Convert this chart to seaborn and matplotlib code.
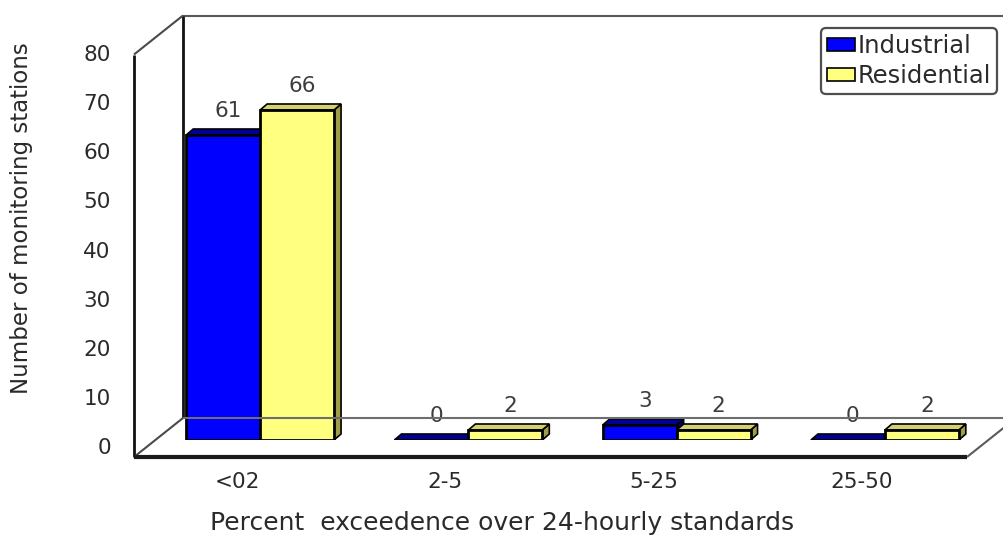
import matplotlib
matplotlib.use("Agg")
import matplotlib.pyplot as plt
import matplotlib.transforms as mtransforms
from matplotlib.lines import Line2D
from matplotlib.patches import Polygon, Patch
import pandas as pd
import seaborn as sns

# ---- data -------------------------------------------------------------
categories = ["<02", "2-5", "5-25", "25-50"]
industrial = [61, 0, 3, 0]
residential = [66, 2, 2, 2]
series_names = ["Industrial", "Residential"]
y_ticks = [0, 10, 20, 30, 40, 50, 60, 70, 80]
x_title = "Percent  exceedence over 24-hourly standards"
y_title = "Number of monitoring stations"

df = pd.DataFrame({
    "range": categories * 2,
    "stations": industrial + residential,
    "site": [series_names[0]] * len(categories) + [series_names[1]] * len(categories),
})

# ---- style ------------------------------------------------------------
sns.set_theme(style="white")
plt.rcParams["font.family"] = ["DejaVu Sans"]

front_colors = {"Industrial": "#0000FF", "Residential": "#FFFF80"}
top_colors = {"Industrial": "#000099", "Residential": "#D2D26E"}
side_colors = {"Industrial": "#000080", "Residential": "#9E9E48"}
text_dark = "#2a2a2a"

W, H = 1004, 536
DPI = 100
fig = plt.figure(figsize=(W / DPI, H / DPI), dpi=DPI, facecolor="white")


def px_rect(left, right, bottom, top):
    """Axes rectangle from pixel edges measured from the top-left corner."""
    return [left / W, 1 - bottom / H, (right - left) / W, (bottom - top) / H]


# Front plane of the box: carries the tick labels
ax_front = fig.add_axes(px_rect(133, 966, 446, 53))
# Plane in which the bars stand
ax = fig.add_axes(px_rect(156, 989, 440, 40))

X0, X1 = -0.5, len(categories) - 0.5
TOP = 80.5

sns.barplot(
    data=df, x="range", y="stations", hue="site",
    palette=front_colors, saturation=1, width=0.71,
    edgecolor="black", linewidth=2, legend=False, ax=ax, zorder=3,
)
ax.set_xlim(X0, X1)
ax.set_ylim(0, 80)
ax.axis("off")

# ---- tick labels on the front plane ------------------------------------
ax_front.set_xlim(X0, X1)
ax_front.set_ylim(0, 80)
ax_front.set_xticks(range(len(categories)))
ax_front.set_xticklabels(categories)
ax_front.set_yticks(y_ticks)
ax_front.set_yticklabels([str(t) for t in y_ticks])
ax_front.tick_params(axis="x", length=0, pad=19, labelsize=15.5, labelcolor=text_dark)
ax_front.tick_params(axis="y", length=0, pad=16, labelsize=15.5, labelcolor=text_dark)
for s in ax_front.spines.values():
    s.set_visible(False)
ax_front.patch.set_visible(False)
ax_front.set_xlabel("")
ax_front.set_ylabel("")

# ---- box (walls and floor) --------------------------------------------
fig.canvas.draw()
BACK = (27, -22)   # pixel offset of the back wall from the bar plane
FRONT = (-22, 17)  # pixel offset of the front edge from the bar plane


def disp(x, v, offset=(0, 0)):
    px, py = ax.transData.transform((x, v))
    return px + offset[0], py - offset[1]


def seg(p, q, color, lw, z=1):
    line = Line2D([p[0], q[0]], [p[1], q[1]], color=color, lw=lw,
                  transform=mtransforms.IdentityTransform(), zorder=z,
                  solid_capstyle="butt")
    fig.add_artist(line)


# back wall
seg(disp(X0, TOP, BACK), disp(X1 + 0.3, TOP, BACK), "#5a5a5a", 1.5)
seg(disp(X0, 0, BACK), disp(X0, TOP, BACK), "#111111", 2)
seg(disp(X0, 0, BACK), disp(X1, 0, BACK), "#6e6e6e", 1.5)
# left wall
seg(disp(X0, 0, FRONT), disp(X0, TOP, FRONT), "#111111", 2)
seg(disp(X0, TOP, FRONT), disp(X0, TOP, BACK), "#4a4a4a", 1.5)
seg(disp(X0, 0, FRONT), disp(X0, 0, BACK), "#4a4a4a", 1.5)
# floor
seg(disp(X0, 0, FRONT), disp(X1, 0, FRONT), "#1a1a1a", 3, z=5)
seg(disp(X1, 0, FRONT), disp(X1, 0, BACK), "#5a5a5a", 1.5)

# ---- 3-D faces of the bars --------------------------------------------
inv = ax.transData.inverted()
o = inv.transform((0, 0))
d = inv.transform((7, 6))
ddx, ddy = d[0] - o[0], d[1] - o[1]

bars = [p for p in ax.patches if p.get_width() > 0]
for p in bars:
    x, w, h = p.get_x(), p.get_width(), p.get_height()
    fc = matplotlib.colors.to_hex(p.get_facecolor(), keep_alpha=False).upper()
    key = "Industrial" if fc == "#0000FF" else "Residential"
    side = Polygon([(x + w, 0), (x + w + ddx, ddy), (x + w + ddx, h + ddy), (x + w, h)],
                   closed=True, facecolor=side_colors[key], edgecolor="black",
                   lw=1.2, zorder=2.5)
    top = Polygon([(x, h), (x + w, h), (x + w + ddx, h + ddy), (x + ddx, h + ddy)],
                  closed=True, facecolor=top_colors[key], edgecolor="black",
                  lw=1.2, zorder=2.6)
    ax.add_patch(side)
    ax.add_patch(top)
    ax.annotate(f"{h:g}", (x + w / 2, h), xytext=(5, 24), textcoords="offset pixels",
                ha="center", va="center", fontsize=15.5, color="#3c3c3c",
                annotation_clip=False, zorder=6)

# ---- legend -------------------------------------------------------------
handles = [Patch(facecolor=front_colors[n], edgecolor="black", lw=1.2) for n in series_names]
leg = ax.legend(
    handles, series_names, loc="upper right",
    bbox_to_anchor=(997 / W, 1 - 28 / H), bbox_transform=fig.transFigure,
    fontsize=17.5, frameon=True, fancybox=True, borderpad=0.25,
    handlelength=1.15, handleheight=0.45, handletextpad=0.1,
    labelspacing=0.25, borderaxespad=0,
)
leg.get_frame().set_edgecolor("#222222")
leg.get_frame().set_linewidth(1.6)
for t in leg.get_texts():
    t.set_color(text_dark)
leg.set_zorder(10)

# ---- axis titles --------------------------------------------------------
fig.text(502 / W, 1 - 523 / H, x_title, ha="center", va="center",
         fontsize=18, color=text_dark)
fig.text(22 / W, 1 - 218 / H, y_title, ha="center", va="center",
         rotation=90, fontsize=16.5, color=text_dark)

fig.savefig("out.png", dpi=DPI, facecolor="white")
